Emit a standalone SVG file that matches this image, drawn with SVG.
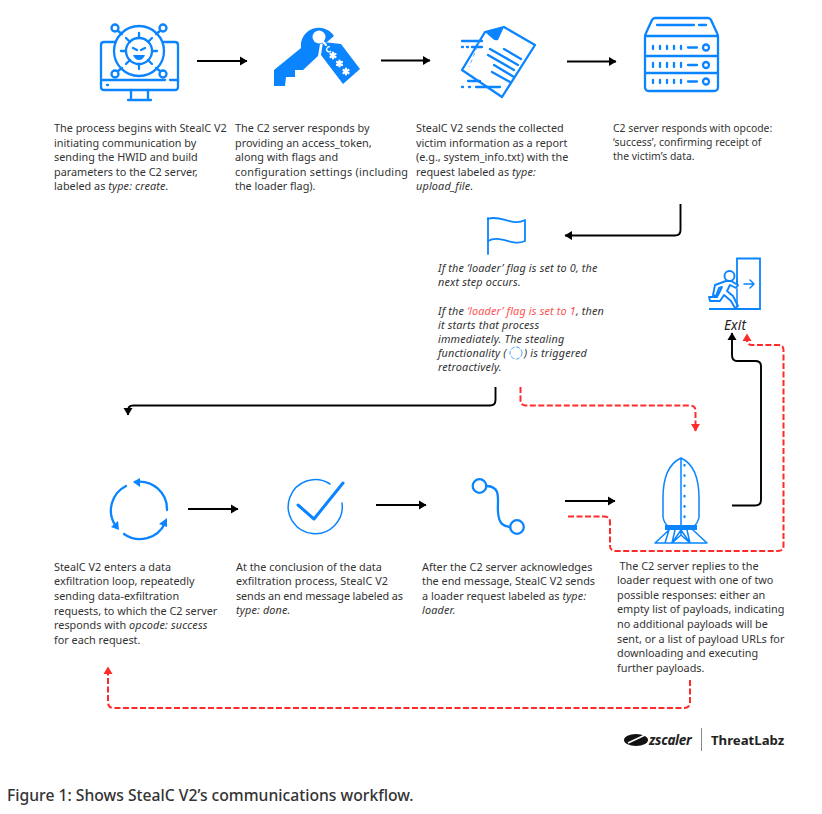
<svg xmlns="http://www.w3.org/2000/svg" width="822" height="814" viewBox="0 0 822 814">
<style>
text{font-family:"Noto Sans","Open Sans","Liberation Sans",sans-serif}
.t{font-size:10.85px;fill:#333}
.s{font-size:10.4px;fill:#333}
.i{font-style:italic;letter-spacing:.16px}
.r{fill:#ff5252}
.ic{fill:none;stroke:#0a84ff;stroke-width:2.300;stroke-linecap:round;stroke-linejoin:round}
.ict{fill:none;stroke:#0a84ff;stroke-width:1.500;stroke-linecap:round;stroke-linejoin:round}
.f{fill:#0a84ff;stroke:none}
.w{fill:none;stroke:#fff;stroke-width:2.200;stroke-linecap:round}
.k{fill:none;stroke:#000;stroke-width:1.900}
.d{fill:none;stroke:#ff2a2a;stroke-width:2;stroke-dasharray:6 2.500}
</style>
<defs>
<marker id="ka" markerUnits="userSpaceOnUse" markerWidth="9" markerHeight="10" refX="7" refY="4.500" orient="auto" viewBox="0 0 9 9"><path d="M0 0L7.500 4.500L0 9z" fill="#000"/></marker>
<marker id="ra" markerUnits="userSpaceOnUse" markerWidth="9" markerHeight="10" refX="7" refY="4.500" orient="auto" viewBox="0 0 9 9"><path d="M0 0L7.500 4.500L0 9z" fill="#ff2a2a"/></marker>
</defs>
<rect width="822" height="814" fill="#fff"/>

<g id="connectors">
<path class="k" marker-end="url(#ka)" d="M197 61H247"/>
<path class="k" marker-end="url(#ka)" d="M381 60.500H430"/>
<path class="k" marker-end="url(#ka)" d="M567 61.500H616"/>
<path class="k" marker-end="url(#ka)" d="M680.500 204V230Q680.500 235.500 675 235.500H565"/>
<path class="k" marker-end="url(#ka)" d="M495.500 387V400Q495.500 405.500 490 405.500H133Q128 405.500 128 411V415"/>
<path class="d" marker-end="url(#ra)" d="M520.500 387V400Q520.500 405.500 526 405.500H690Q695.500 405.500 695.500 411V431"/>
<path class="k" marker-end="url(#ka)" d="M188 509H238"/>
<path class="k" marker-end="url(#ka)" d="M376 505H426"/>
<path class="k" marker-end="url(#ka)" d="M565 501H615"/>
<path class="k" marker-end="url(#ka)" d="M732 505.500H755Q761 505.500 761 500V366Q761 361 755 361H737Q732 361 732 355V333"/>
<path class="d" marker-end="url(#ra)" d="M568 516.500H604Q610 516.500 610 522V546Q610 551 616 551H778Q783.500 551 783.500 546V350Q783.500 345 778 345H752Q747 345 747 340V334"/>
<path class="d" marker-end="url(#ra)" d="M690 680V702Q690 708 684 708H114Q108 708 108 702V667"/>
</g>

<g id="n-malware">
<path class="ic" d="M116 42H104Q101 42 101 45V87Q101 90 104 90H175Q178 90 178 87V45Q178 42 175 42H163"/>
<path class="ic" d="M101 80H165M170 80H178M107 85H108M131 90V100M148 90V100M128 100H151"/>
<circle class="ic" cx="139" cy="51" r="25"/>
<circle class="ic" cx="139" cy="51" r="13"/>
<path class="ic" d="M139 33V38M139 64V69M121 51H126M152 51H157M126 38L130 42M152 38L148 42M126 64L130 60M152 64L148 60"/>
<path class="ic" d="M133 48L137 50M145 48L141 50"/>
<path class="f" d="M133 55H145Q143 60 139 60Q135 60 133 55z"/>
<circle class="ic" cx="115" cy="28" r="3.500"/>
<circle class="ic" cx="163" cy="28" r="3.500"/>
<circle class="ic" cx="115" cy="74" r="3.500"/>
<circle class="ic" cx="163" cy="74" r="3.500"/>
<path class="ic" d="M118 31L122 34M160 31L156 34M118 71L122 68M160 71L156 68"/>
</g>

<g id="n-key">
<path class="f" d="M274 70L301 48A18 18 0 0 1 334 36L327 42L320 44L318 56L303 70H295V77H286L285 86H274z"/>
<circle cx="319" cy="37" r="6.500" fill="#fff"/>
<path class="f" d="M323 42L341 44L360 69L343 84L321 55z" stroke="#fff" stroke-width="1.500"/>
<path d="M319 37L326 45" stroke="#fff" stroke-width="2" stroke-linecap="round"/>
<path d="M330 47A2.500 2.500 0 1 0 331 51" fill="none" stroke="#fff" stroke-width="1.300"/>
<path class="w" d="M333 52.500V58.500M330.500 54L335.500 57M335.500 54L330.500 57M339.500 60.500V66.500M337 62L342 65M342 62L337 65M346 68.500V74.500M343.500 70L348.500 73M348.500 70L343.500 73"/>
</g>

<g id="n-report">
<path class="ic" d="M485 32L504 27L535 45L502 97L462 70z"/>
<path class="f" d="M485 32L504 27L498 40Q495 41 493 39z"/>
<path class="ic" d="M504 49L521 59M490 49L518 65M488 55L514 70M494 65L514 77M492 72L510 82"/>
<path d="M480 40L469 67" fill="none" stroke="#6db5ff" stroke-width="1" stroke-dasharray="4 3"/>
<path class="ic" d="M462 41H482M462 47H463M467 47H468M472 47H482M468 81H480M462 87H463M469 87H470M476 87H500"/>
</g>

<g id="n-server">
<path class="ic" d="M655 18H708Q710 18 711 20L717 33Q718 35 718 37V87Q718 91 714 91H649Q645 91 645 87V37Q645 35 646 33L652 20Q653 18 655 18z"/>
<path class="ic" d="M645 36H718M645 56H718M645 73H718"/>
<path class="ic" d="M657 25H694M699 25H706"/>
<path class="ic" d="M653 46V49M660 46V49M667 46V49M674 46V49M681 46V49M688 47.500H697M653 63V67M660 63V67M667 63V67M674 63V67M681 63V67M688 65H697M653 80V83M660 80V83M667 80V83M674 80V83M681 80V83M688 81.500H697"/>
<circle class="ic" cx="706" cy="47.500" r="3"/>
<circle class="ic" cx="706" cy="65" r="3"/>
<circle class="ic" cx="706" cy="81.500" r="3"/>
</g>

<g id="n-flag">
<path class="ic" style="stroke-width:1.800" d="M488 218V254"/>
<path class="ic" style="stroke-width:1.800" d="M488 219C500 214 512 227 525 220V241C512 247 500 234 488 241"/>
</g>

<g id="n-exit">
<path class="ic" style="stroke-width:1.800;stroke-linecap:butt;stroke-linejoin:miter" d="M737 285V258.500H760V309H709"/>
<path class="ict" d="M737 279V284M737 289V307"/>
<path class="ict" d="M744 284H754M750 280L754 284L750 288"/>
<circle class="ic" style="stroke-width:1.900" cx="729.500" cy="276" r="5"/>
<path class="ic" style="stroke-width:1.900" d="M726 281L715 285L713 295L716 296L719 288L722 287L717 297L709 297L710 301L720 301L724 295L731 301L735 308L738 306L733 296L727 291L730 285L736 288L738 285L731 281z"/>
</g>
<text class="i" x="724" y="329.500" style="font-size:13.500px;fill:#222">Exit</text>

<g id="n-loop">
<path class="ic" d="M126 486A27.500 27.500 0 0 0 115 525"/>
<path class="ic" d="M124 534A27.500 27.500 0 0 0 165 523"/>
<path class="ic" d="M135 482A27.500 27.500 0 0 1 167 510"/>
<path class="f" d="M133 482L140 478L140 487z"/>
<path class="f" d="M111 527L119 530L118 521z"/>
<path class="f" d="M159 524L167 518L167 527z"/>
</g>

<g id="n-check">
<path class="ict" d="M330 484A27 27 0 1 0 342 503"/>
<path class="ic" style="stroke-width:3" d="M298 505L314 519L343 483"/>
</g>

<g id="n-path">
<circle class="ic" cx="479.500" cy="486" r="6.800"/>
<circle class="ic" cx="517" cy="527" r="6.800"/>
<path class="ic" d="M487 486C502 487 497 500 498 512C499 526 505 526 510 527"/>
</g>

<g id="n-rocket">
<path class="ict" d="M681 458C668 464 663 478 663 498V517Q664 523 668 526M681 458C694 464 699 478 699 498V517Q698 523 694 526M681 458V526"/>
<rect class="f" x="665" y="525" width="32" height="5"/>
<path class="ict" d="M669 530L655 543H707L693 530M669 530L665 543M675 530L672 543L681 530L690 543L687 530M681 530V535M672 543L681 535L690 543"/>
<path class="ic" stroke-dasharray="0.500 9.800" d="M684.500 465V518"/>
</g>

<g id="labels">
<text class="t" x="54" y="132">The process begins with StealC V2</text>
<text class="t" x="54" y="146.500">initiating communication by</text>
<text class="t" x="54" y="161">sending the HWID and build</text>
<text class="t" x="54" y="175.500">parameters to the C2 server,</text>
<text class="t" x="54" y="190">labeled as <tspan class="i">type: create.</tspan></text>

<text class="t" x="235" y="132">The C2 server responds by</text>
<text class="t" x="235" y="146.500">providing an access_token,</text>
<text class="t" x="235" y="161">along with flags and</text>
<text class="t" x="235" y="175.500" textLength="173">configuration settings (including</text>
<text class="t" x="235" y="190">the loader flag).</text>

<text class="t" x="416" y="132">StealC V2 sends the collected</text>
<text class="t" x="416" y="146.500">victim information as a report</text>
<text class="t" x="416" y="161">(e.g., system_info.txt) with the</text>
<text class="t" x="416" y="175.500">request labeled as <tspan class="i">type:</tspan></text>
<text class="t i" x="416" y="190">upload_file.</text>

<text class="s" x="613" y="132">C2 server responds with opcode:</text>
<text class="s" x="613" y="146">‘success’, confirming receipt of</text>
<text class="s" x="613" y="160">the victim’s data.</text>

<text class="t i" x="438" y="272">If the ‘loader’ flag is set to 0, the</text>
<text class="t i" x="438" y="286">next step occurs.</text>
<text class="t i" x="438" y="314.500">If the <tspan class="r">‘loader’ flag is set to 1</tspan>, then</text>
<text class="t i" x="438" y="329">it starts that process</text>
<text class="t i" x="438" y="343">immediately. The stealing</text>
<text class="t i" x="438" y="357">functionality (</text>
<text class="t i" x="524" y="357">) is triggered</text>
<text class="t i" x="438" y="371">retroactively.</text>
<circle cx="516" cy="353" r="6" fill="none" stroke="#4da3ff" stroke-width="1" stroke-dasharray="4 1.500"/>

<text class="t" x="54" y="570.500">StealC V2 enters a data</text>
<text class="t" x="54" y="585">exfiltration loop, repeatedly</text>
<text class="t" x="54" y="599.500">sending data-exfiltration</text>
<text class="t" x="54" y="614.500">requests, to which the C2 server</text>
<text class="t" x="54" y="629">responds with <tspan class="i">opcode: success</tspan></text>
<text class="t" x="54" y="643.500">for each request.</text>

<text class="t" x="236" y="570.500">At the conclusion of the data</text>
<text class="t" x="236" y="585" textLength="152">exfiltration process, StealC V2</text>
<text class="t" x="236" y="599.500" textLength="167">sends an end message labeled as</text>
<text class="t i" x="236" y="614">type: done.</text>

<text class="t" x="422" y="570.500">After the C2 server acknowledges</text>
<text class="t" x="422" y="585">the end message, StealC V2 sends</text>
<text class="t" x="422" y="599.500">a loader request labeled as <tspan class="i">type:</tspan></text>
<text class="t i" x="422" y="614">loader.</text>

<text class="t" x="619.500" y="569.500">The C2 server replies to the</text>
<text class="t" x="617" y="584">loader request with one of two</text>
<text class="t" x="617" y="598.500">possible responses: either an</text>
<text class="t" x="617" y="613">empty list of payloads, indicating</text>
<text class="t" x="617" y="627.500">no additional payloads will be</text>
<text class="t" x="617" y="642.500">sent, or a list of payload URLs for</text>
<text class="t" x="617" y="657">downloading and executing</text>
<text class="t" x="617" y="671.500">further payloads.</text>
</g>

<g id="logo">
<ellipse cx="636" cy="740" rx="12" ry="6" fill="#111"/>
<path d="M628 743L645 735" stroke="#fff" stroke-width="1.500"/>
<text x="649" y="745" style="font-size:13.500px;font-weight:700;font-style:italic;fill:#222;letter-spacing:-.3px">zscaler</text>
<path d="M701.500 728V751" stroke="#888" stroke-width="1"/>
<text x="711" y="745" style="font-size:13.200px;font-weight:700;fill:#222">ThreatLabz</text>
</g>

<text x="7" y="801" style="font-size:15.700px;font-weight:500;fill:#333">Figure 1: Shows StealC V2’s communications workflow.</text>
</svg>
